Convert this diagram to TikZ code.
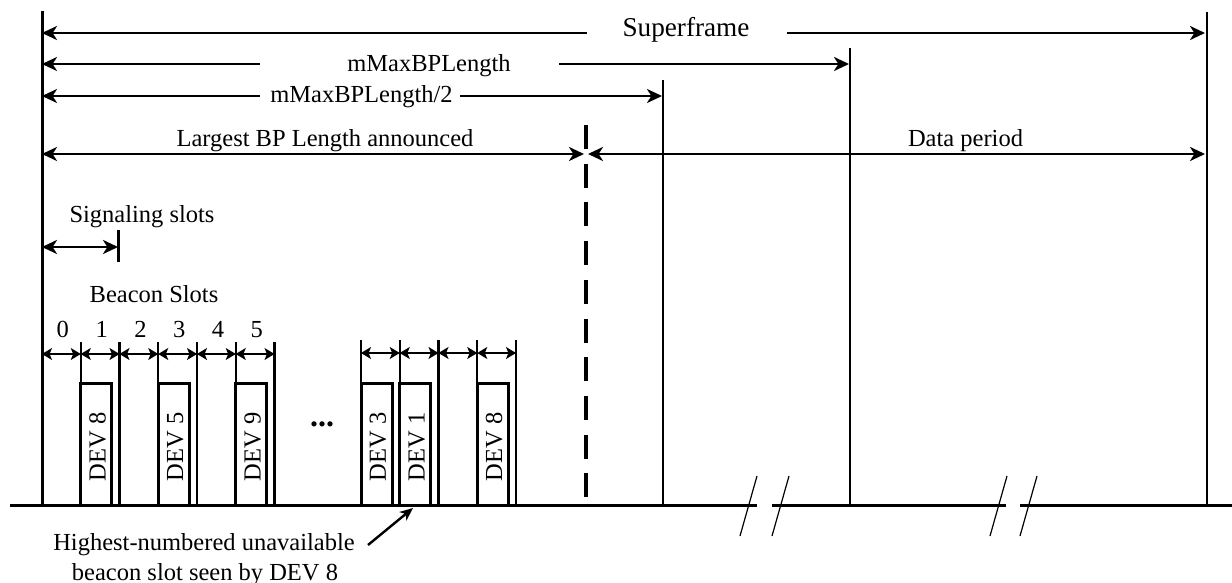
\documentclass[tikz,border=0pt]{standalone}
\usepackage{fontspec}
\setmainfont{Liberation Serif}
\usetikzlibrary{arrows.meta}

\tikzset{
  spanTip/.tip={Stealth[length=7.5pt,width=7pt,inset=2.2pt]},
  slotTip/.tip={Stealth[length=5pt,width=6pt,inset=1.2pt]},
  noteTip/.tip={Stealth[length=6.5pt,width=5.5pt,inset=1.8pt]}
}

\begin{document}
\begin{tikzpicture}[x=0.5pt, y=-0.5pt,
  bar/.style={line width=1.5pt},
  thinbar/.style={line width=1.2pt},
  span/.style={line width=1.4pt},
  slotdim/.style={line width=0.7pt, slotTip-slotTip},
  breakmark/.style={line width=0.6pt},
  lbl/.style={font=\fontsize{12.25}{14}\selectfont, anchor=base, inner sep=0pt}]

  \useasboundingbox (0,0) rectangle (1232,583);

  % -- Time axis with break marks --
  \draw[bar] (10,505) -- (757,505);
  \draw[bar] (772,505) -- (1006,505);
  \draw[bar] (1020,505) -- (1232,505);
  \foreach \bx in {740,772,990,1020}
    \draw[breakmark] (\bx,536) -- ++(17,-60);

  % -- Vertical boundaries --
  \draw[bar] (42,11) -- (42,505);
  \draw[thinbar] (1207,12) -- (1207,505);
  \draw[thinbar] (850,48) -- (850,505);
  \draw[thinbar] (663,80) -- (663,505);
  \draw[line width=2pt, dash pattern=on 12pt off 7.35pt] (585.5,125) -- (585.5,497);

  % -- Superframe --
  \node[lbl, font=\fontsize{13.6}{16}\selectfont] (sf) at (686,37) {Superframe};
  \draw[span, spanTip-] (42,33) -- (587,33);
  \draw[span, -spanTip] (787,33) -- (1205,33);

  % -- mMaxBPLength --
  \node[lbl] (mbp) at (429,72) {mMaxBPLength};
  \draw[span, spanTip-] (42,64) -- (260,64);
  \draw[span, -spanTip] (559,64) -- (849,64);

  % -- mMaxBPLength/2 --
  \node[lbl] (mbph) at (361.5,103) {mMaxBPLength/2};
  \draw[span, spanTip-] (42,96) -- (260,96);
  \draw[span, -spanTip] (460,96) -- (662,96);

  % -- Largest BP length and data period --
  \node[lbl] (lbp) at (325,147) {Largest BP Length announced};
  \draw[span, spanTip-spanTip] (42,154) -- (584,154);
  \node[lbl] (dp) at (965.5,147) {Data period};
  \draw[span, spanTip-spanTip] (588,154) -- (1205,154);

  % -- Signaling slots --
  \node[lbl] (sig) at (142,222) {Signaling slots};
  \draw[span, spanTip-spanTip] (42,247) -- (118,247);
  \draw[bar] (118,230) -- (118,262);

  % -- Beacon slots, first group --
  \node[lbl] (bs) at (154,302) {Beacon Slots};
  \foreach \i in {0,...,5} {
    \pgfmathsetmacro\xa{42+38.75*\i}
    \pgfmathsetmacro\xb{42+38.75*(\i+1)}
    \draw[thinbar] (\xb,342) -- (\xb,505);
    \draw[slotdim] (\xa,354) -- (\xb,354);
    \node[lbl] (num\i) at ({(\xa+\xb)/2+1.5},337) {\i};
  }
  \foreach \s/\d in {1/8,3/5,5/9} {
    \pgfmathsetmacro\xa{42+38.75*\s}
    \draw[bar] (\xa,505) -- (\xa,383) -- (\xa+31,383) -- (\xa+31,505);
    \node[lbl, rotate=90, anchor=center] (dev\s) at (\xa+17,447) {DEV \d};
  }

  % -- Ellipsis --
  \node[font=\fontsize{16}{18}\selectfont\bfseries] (dots) at (322,424) {...};

  % -- Beacon slots, second group --
  \draw[thinbar] (361,340) -- (361,505);
  \foreach \i in {0,...,3} {
    \pgfmathsetmacro\xa{361+38.75*\i}
    \pgfmathsetmacro\xb{361+38.75*(\i+1)}
    \draw[thinbar] (\xb,340) -- (\xb,505);
    \draw[slotdim] (\xa,353) -- (\xb,353);
  }
  \foreach \s/\d in {0/3,1/1,3/8} {
    \pgfmathsetmacro\xa{361+38.75*\s}
    \draw[bar] (\xa,505) -- (\xa,383) -- (\xa+31,383) -- (\xa+31,505);
    \node[lbl, rotate=90, anchor=center] (devb\s) at (\xa+17,447) {DEV \d};
  }

  % -- Note on highest-numbered unavailable slot --
  \node[lbl] (note1) at (204,550) {Highest-numbered unavailable};
  \node[lbl] (note2) at (205,580) {beacon slot seen by DEV 8};
  \coordinate (hitslot) at (413,508);
  \draw[line width=1.2pt, -noteTip] (368,545) -- (hitslot);

\end{tikzpicture}
\end{document}
